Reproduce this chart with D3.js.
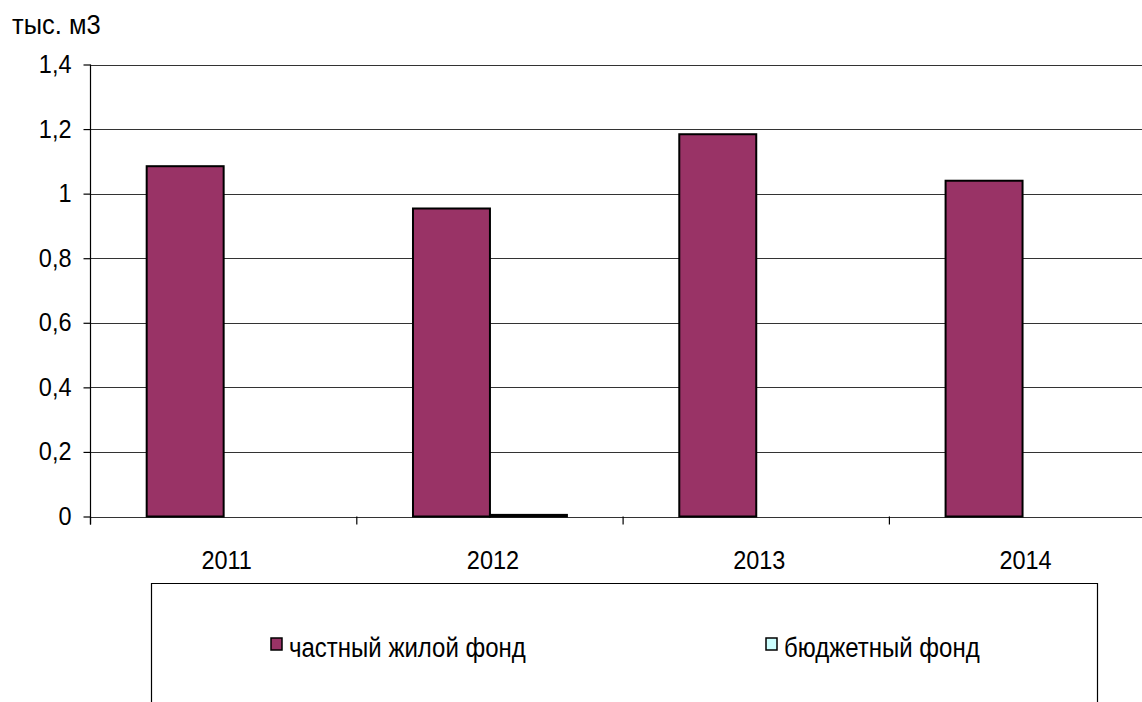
<!DOCTYPE html>
<html>
<head>
<meta charset="utf-8">
<script src="https://cdn.jsdelivr.net/npm/d3@7"></script>
<style>
  html, body { margin: 0; padding: 0; background: #fff; }
  svg { display: block; }
  text { font-family: "Liberation Sans", Arial, sans-serif; fill: #000; }
</style>
</head>
<body>
<svg id="chart" width="1142" height="702"></svg>
<script>
const years = ["2011", "2012", "2013", "2014"];
const seriesNames = ["частный жилой фонд", "бюджетный фонд"];
const privateFund = [1.085, 0.954, 1.184, 1.040];
const budgetFund = [0, 0.005, 0, 0];
const yTicks = [0, 0.2, 0.4, 0.6, 0.8, 1.0, 1.2, 1.4];
const unitLabel = "тыс. м3";
const colors = ["#993366", "#CCFFFF"];

(function () {
const svg = d3.select("#chart");
const W = 1142, H = 702;
const pLeft = 90.5, pTop = 64.5, pBottom = 516.5;
const catW = 266.3;
const pRight = pLeft + catW * years.length;

const x = d3.scaleBand().domain(years).range([pLeft, pRight]).paddingInner(0).paddingOuter(0);
const xs = d3.scaleBand().domain(d3.range(2)).range([0, x.bandwidth()]).paddingOuter(0.73).paddingInner(0);
const y = d3.scaleLinear().domain([0, 1.4]).range([pBottom, pTop]);

const fs = 23.5;
const sy = 1.12;
function stretch(sel) {
  sel.attr("transform", function () {
    const tx = +this.getAttribute("data-x"), ty = +this.getAttribute("data-y");
    return `translate(${tx},${ty}) scale(1,${sy})`;
  });
}
const fmt = d => d3.format(".1f")(d).replace(".", ",").replace(/,0$/, "");

// gridlines
svg.append("g").selectAll("line").data(yTicks).join("line")
  .attr("x1", pLeft).attr("x2", W + 20)
  .attr("y1", d => Math.round(y(d)) + 0.5).attr("y2", d => Math.round(y(d)) + 0.5)
  .attr("stroke", "#333").attr("stroke-width", 1.2);

// y axis
const yAxis = d3.axisLeft(y).tickValues(yTicks).tickSize(7).tickPadding(0).tickFormat(fmt);
const gy = svg.append("g").attr("transform", `translate(${pLeft},0)`).call(yAxis);
gy.select(".domain").remove();
gy.selectAll(".tick line").attr("stroke", "#000").attr("stroke-width", 1.2);
gy.selectAll(".tick text").remove();
gy.selectAll(".tick").append("text")
  .attr("data-x", -19).attr("data-y", 8)
  .attr("text-anchor", "end").attr("font-size", fs)
  .text(d => fmt(d))
  .call(stretch);
svg.append("line").attr("x1", pLeft).attr("x2", pLeft).attr("y1", pTop).attr("y2", pBottom + 8)
  .attr("stroke", "#000").attr("stroke-width", 1.2);

// x axis ticks at category boundaries
const bounds = years.map(d => x(d)).concat([pRight]);
svg.append("g").selectAll("line").data(bounds).join("line")
  .attr("x1", d => d).attr("x2", d => d)
  .attr("y1", pBottom).attr("y2", pBottom + 8)
  .attr("stroke", "#000").attr("stroke-width", 1.2);

// x labels via axis
const xAxis = d3.axisBottom(x).tickSize(0).tickPadding(0);
const gx = svg.append("g").attr("transform", `translate(0,${pBottom})`).call(xAxis);
gx.select(".domain").remove();
gx.selectAll(".tick text").remove();
gx.selectAll(".tick").append("text")
  .attr("data-x", 3).attr("data-y", 52)
  .attr("text-anchor", "middle").attr("font-size", fs)
  .text(d => d).call(stretch);

// bars
const series = [privateFund, budgetFund];
const groups = svg.append("g").selectAll("g").data(years).join("g")
  .attr("transform", d => `translate(${x(d)},0)`);
groups.selectAll("rect")
  .data((d, i) => series.map((s, k) => ({ k, v: s[i] })).filter(o => o.v > 0))
  .join("rect")
  .attr("x", d => xs(d.k))
  .attr("width", xs.bandwidth())
  .attr("y", d => y(d.v))
  .attr("height", d => pBottom - y(d.v))
  .attr("fill", d => colors[d.k])
  .attr("stroke", "#000").attr("stroke-width", 2);

// unit label
svg.append("text").attr("data-x", 12).attr("data-y", 34)
  .attr("font-size", 25.5).text(unitLabel).call(stretch);

// legend box
const lgTop = 583.5, lgLeft = 151.5, lgRight = 1097.5;
svg.append("path")
  .attr("d", `M${lgLeft},${H + 5}V${lgTop}H${lgRight}V${H + 5}`)
  .attr("fill", "none").attr("stroke", "#000").attr("stroke-width", 1.2);
const legendX = [271, 766];
const lg = svg.append("g").selectAll("g").data(seriesNames).join("g")
  .attr("transform", (d, i) => `translate(${legendX[i]},0)`);
lg.append("rect").attr("x", 0).attr("y", 638).attr("width", 11).attr("height", 12)
  .attr("fill", (d, i) => colors[i]).attr("stroke", "#000").attr("stroke-width", 1.5);
lg.append("text").attr("data-x", 18).attr("data-y", 657)
  .attr("font-size", 24).text(d => d).call(stretch);
})();
</script>
</body>
</html>
